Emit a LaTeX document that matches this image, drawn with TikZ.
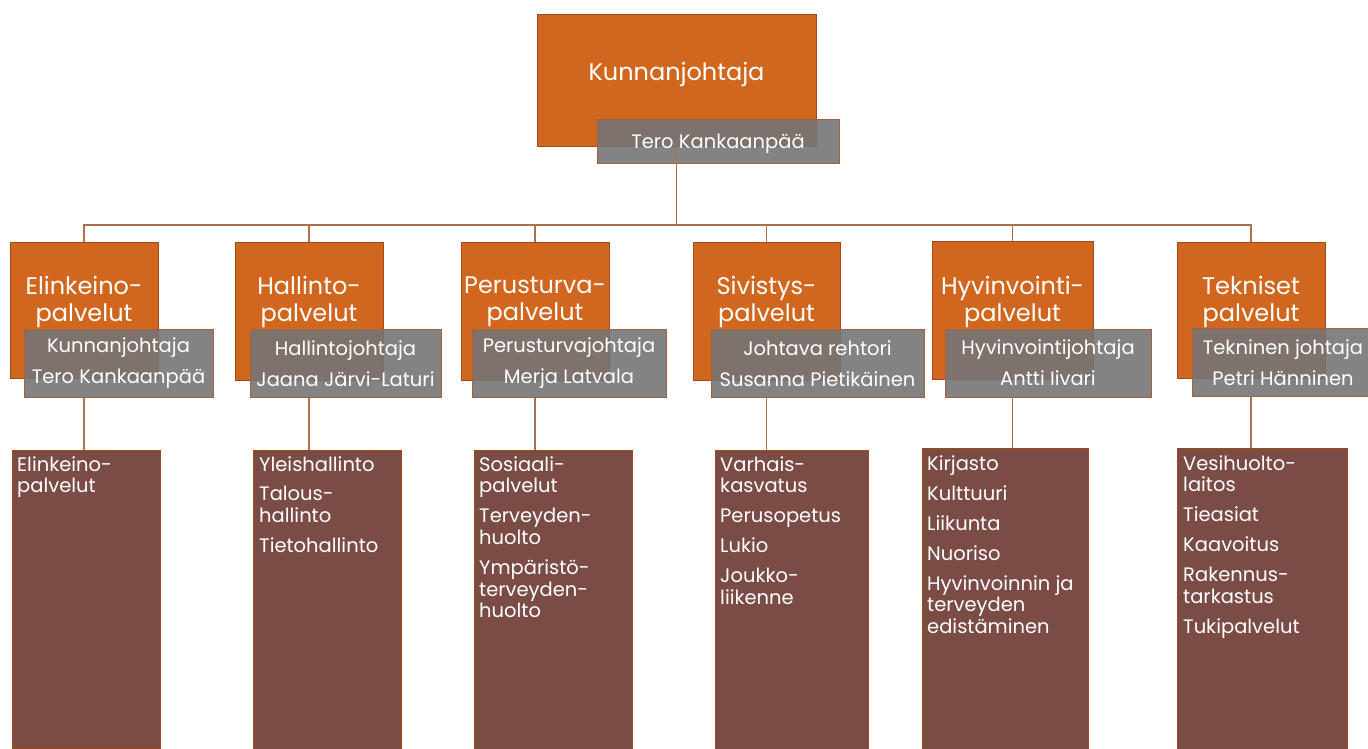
\documentclass[tikz,border=0pt]{standalone}
\usepackage{fontspec}
\setmainfont{Poppins}
\usetikzlibrary{positioning}

\definecolor{unitorange}{RGB}{209,103,30}
\definecolor{unitedge}{RGB}{160,74,24}
\definecolor{namegray}{RGB}{117,117,117}
\definecolor{nameedge}{RGB}{168,96,60}
\definecolor{taskbrown}{RGB}{123,76,69}
\definecolor{connbrown}{RGB}{172,112,78}

\begin{document}
\begin{tikzpicture}[x=1pt,y=-1pt]

\tikzset{
    unit/.style={draw=unitedge, fill=unitorange, line width=0.8pt, inner sep=0pt, minimum width=148pt, minimum height=138pt},
    unittext/.style={text=white, align=center, inner sep=0pt, font=\fontsize{24}{27}\selectfont},
    namebox/.style={draw=nameedge, fill=namegray, fill opacity=0.9, text opacity=1, text=white, line width=0.8pt, inner sep=0pt, minimum height=68pt, align=center, font=\fontsize{19.5}{31}\selectfont},
    tasks/.style={draw=unitedge, fill=taskbrown, line width=0.6pt, inner sep=0pt, anchor=north west, minimum height=302pt},
    tasktext/.style={text=white, align=left, inner sep=0pt, anchor=north west, font=\fontsize{19.5}{21.7}\selectfont},
    conn/.style={draw=connbrown, line width=1.2pt}
}
\useasboundingbox (0,0) rectangle (1368,749);

\node[unit, minimum width=279pt, minimum height=132pt] (boss) at (676.5,80) {};
\node[unittext] (bosst) at (676.5,74) {Kunnanjohtaja};
\node[namebox, minimum width=242pt, minimum height=44pt, text depth=0pt] (bossname) at (718,141) {Tero Kankaanpää};

\node[unit, minimum height=136pt] (u1) at (84,310) {};
\node[unit] (u2) at (309,311) {};
\node[unit] (u3) at (535,311) {};
\node[unit, minimum width=147pt] (u4) at (766.5,311) {};
\node[unit, minimum width=161pt] (u5) at (1012.5,310.5) {};
\node[unit, minimum height=136pt] (u6) at (1251,310) {};

\node[unittext] (u1t) at (84,302) {Elinkeino-\\palvelut};
\node[unittext] (u2t) at (309,302) {Hallinto-\\palvelut};
\node[unittext] (u3t) at (535,302) {Perusturva-\\palvelut};
\node[unittext] (u4t) at (766.5,302) {Sivistys-\\palvelut};
\node[unittext] (u5t) at (1012.5,302) {Hyvinvointi-\\palvelut};
\node[unittext] (u6t) at (1251,302) {Tekniset\\palvelut};

\node[namebox, minimum width=189pt] (g1) at (118.5,363.5) {Kunnanjohtaja\\Tero Kankaanpää};
\node[namebox, minimum width=191pt] (g2) at (345.5,363.5) {Hallintojohtaja\\Jaana Järvi-Laturi};
\node[namebox, minimum width=194pt] (g3) at (569,363.5) {Perusturvajohtaja\\Merja Latvala};
\node[namebox, minimum width=213pt] (g4) at (817.5,363.5) {Johtava rehtori\\Susanna Pietikäinen};
\node[namebox, minimum width=206pt] (g5) at (1048,363) {Hyvinvointijohtaja\\Antti Iivari};
\node[namebox, minimum width=182pt] (g6) at (1283,362.5) {Tekninen johtaja\\Petri Hänninen};

\node[tasks, minimum width=148pt, minimum height=298pt] (s1) at (12,450) {};
\node[tasks, minimum width=148pt] (s2) at (253,450) {};
\node[tasks, minimum width=158pt] (s3) at (474,450) {};
\node[tasks, minimum width=153pt] (s4) at (715,450) {};
\node[tasks, minimum width=166pt] (s5) at (922,448) {};
\node[tasks, minimum width=170pt] (s6) at (1177,448) {};

\node[tasktext] (s1t) at ([shift={(5,6)}]s1.north west) {Elinkeino-\\palvelut};
\node[tasktext] (s2t) at ([shift={(6,6)}]s2.north west) {Yleishallinto\\[8pt]Talous-\\hallinto\\[8pt]Tietohallinto};
\node[tasktext] (s3t) at ([shift={(5,6)}]s3.north west) {Sosiaali-\\palvelut\\[8.3pt]Terveyden-\\huolto\\[8.3pt]Ympäristö-\\terveyden-\\huolto};
\node[tasktext] (s4t) at ([shift={(5,6)}]s4.north west) {Varhais-\\kasvatus\\[8.3pt]Perusopetus\\[8.3pt]Lukio\\[8.3pt]Joukko-\\liikenne};
\node[tasktext] (s5t) at ([shift={(5,7)}]s5.north west) {Kirjasto\\[8.3pt]Kulttuuri\\[8.3pt]Liikunta\\[8.3pt]Nuoriso\\[8.3pt]Hyvinvoinnin ja\\terveyden\\edistäminen};
\node[tasktext] (s6t) at ([shift={(6,7)}]s6.north west) {Vesihuolto-\\laitos\\[8.3pt]Tieasiat\\[8.3pt]Kaavoitus\\[8.3pt]Rakennus-\\tarkastus\\[8.3pt]Tukipalvelut};

\coordinate (bus) at (676.5,225);
\draw[conn] (boss.south) -- (bus);
\draw[conn] (bus) -| (u1.north);
\draw[conn] (bus) -| (u2.north);
\draw[conn] (bus) -| (u3.north);
\draw[conn] (bus) -| (u4.north);
\draw[conn] (bus) -| (u5.north);
\draw[conn] (bus) -| (u6.north);
\draw[conn] (u1.south |- g1.south) -- (u1.south |- s1.north);
\draw[conn] (u2.south |- g2.south) -- (u2.south |- s2.north);
\draw[conn] (u3.south |- g3.south) -- (u3.south |- s3.north);
\draw[conn] (u4.south |- g4.south) -- (u4.south |- s4.north);
\draw[conn] (u5.south |- g5.south) -- (u5.south |- s5.north);
\draw[conn] (u6.south |- g6.south) -- (u6.south |- s6.north);
\end{tikzpicture}
\end{document}
